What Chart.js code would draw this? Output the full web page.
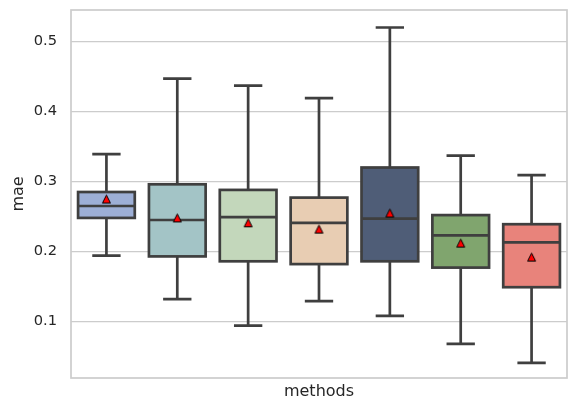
<!DOCTYPE html>
<html>
<head>
<meta charset="utf-8">
<script src="https://cdn.jsdelivr.net/npm/chart.js@4/dist/chart.umd.min.js"></script>
<style>
  body { margin: 0; background: #fff; }
  #wrap { width: 577px; height: 413px; }
</style>
</head>
<body>
<div id="wrap"><canvas id="chart"></canvas></div>
<script>
// box stats per method
const methods = ['m1', 'm2', 'm3', 'm4', 'm5', 'm6', 'm7'];
const whiskerLow = [0.194, 0.132, 0.094, 0.129, 0.108, 0.068, 0.041];
const q1 = [0.248, 0.193, 0.186, 0.182, 0.186, 0.177, 0.149];
const median = [0.265, 0.245, 0.249, 0.241, 0.247, 0.223, 0.213];
const q3 = [0.285, 0.296, 0.288, 0.277, 0.320, 0.252, 0.239];
const whiskerHigh = [0.339, 0.447, 0.437, 0.419, 0.520, 0.337, 0.309];
const means = [0.275, 0.248, 0.241, 0.232, 0.255, 0.212, 0.192];
const boxColors = ['#9dafd6', '#a3c4c6', '#c3d7bb', '#e8cdb3', '#4f5d77', '#80a56e', '#e8837b'];
const yTicks = [0.1, 0.2, 0.3, 0.4, 0.5];

const EDGE = '#3f3f3f';
const LW = 2.7;
const TEXT = '#262626';
const GRID = '#cccccc';

// mean marker: matplotlib style '^', 8px wide and 8px tall
function meanMarker() {
    const c = document.createElement('canvas');
    c.width = 11;
    c.height = 11;
    const g = c.getContext('2d');
    g.beginPath();
    g.moveTo(5.5, 1.5);
    g.lineTo(9.5, 9.5);
    g.lineTo(1.5, 9.5);
    g.closePath();
    g.fillStyle = '#ff0000';
    g.fill();
    g.strokeStyle = '#000000';
    g.lineWidth = 1;
    g.lineJoin = 'miter';
    g.stroke();
    return c;
}

// box outline, whiskers, caps and median, drawn right after the box fills
const boxExtras = {
    id: 'boxExtras',
    afterDatasetDraw(chart, args) {
        if (args.index !== 0) return;
        const ctx = chart.ctx;
        const y = chart.scales.y;
        ctx.save();
        ctx.strokeStyle = EDGE;
        ctx.lineWidth = LW;
        ctx.lineCap = 'butt';
        ctx.lineJoin = 'miter';
        args.meta.data.forEach((bar, i) => {
            const x = bar.x;
            const w = bar.width;
            const top = y.getPixelForValue(q3[i]);
            const bot = y.getPixelForValue(q1[i]);
            ctx.strokeRect(x - w / 2, top, w, bot - top);
            ctx.beginPath();
            ctx.moveTo(x, top);
            ctx.lineTo(x, y.getPixelForValue(whiskerHigh[i]));
            ctx.moveTo(x, bot);
            ctx.lineTo(x, y.getPixelForValue(whiskerLow[i]));
            ctx.moveTo(x - w / 4, y.getPixelForValue(whiskerHigh[i]));
            ctx.lineTo(x + w / 4, y.getPixelForValue(whiskerHigh[i]));
            ctx.moveTo(x - w / 4, y.getPixelForValue(whiskerLow[i]));
            ctx.lineTo(x + w / 4, y.getPixelForValue(whiskerLow[i]));
            ctx.moveTo(x - w / 2, y.getPixelForValue(median[i]));
            ctx.lineTo(x + w / 2, y.getPixelForValue(median[i]));
            ctx.stroke();
        });
        ctx.restore();
    }
};

// full frame round the plot area
const frame = {
    id: 'frame',
    beforeDatasetsDraw(chart) {
        const {ctx, chartArea: a} = chart;
        ctx.save();
        ctx.strokeStyle = GRID;
        ctx.lineWidth = 1.7;
        ctx.strokeRect(a.left, a.top, a.right - a.left, a.bottom - a.top);
        ctx.restore();
    }
};

new Chart(document.getElementById('chart'), {
    data: {
        labels: methods,
        datasets: [{
            type: 'bar',
            data: q1.map((v, i) => [v, q3[i]]),
            backgroundColor: boxColors,
            borderWidth: 0,
            categoryPercentage: 0.8,
            barPercentage: 1.0,
            order: 2
        }, {
            type: 'line',
            data: means,
            showLine: false,
            pointStyle: meanMarker(),
            pointRadius: 5,
            order: 1
        }]
    },
    options: {
        responsive: true,
        maintainAspectRatio: false,
        animation: false,
        events: [],
        layout: { padding: { top: 10, right: 10, left: 0, bottom: 0 } },
        plugins: {
            legend: { display: false },
            tooltip: { enabled: false }
        },
        scales: {
            x: {
                type: 'category',
                grid: { display: false },
                border: { display: false },
                ticks: { display: false },
                title: {
                    display: true,
                    text: 'methods',
                    color: TEXT,
                    font: { family: 'DejaVu Sans', size: 16 },
                    padding: { top: 0, bottom: 11.5 }
                },
                afterFit(scale) {
                    scale.height = 35;
                    scale.paddingLeft = 0;
                    scale.paddingRight = 0;
                }
            },
            y: {
                type: 'linear',
                min: 0.0193,
                max: 0.545,
                grid: { color: GRID, lineWidth: 1.33, drawTicks: false },
                border: { display: false },
                ticks: {
                    color: TEXT,
                    padding: 14,
                    font: { family: 'DejaVu Sans', size: 14.67 },
                    callback: v => v.toFixed(1)
                },
                afterBuildTicks(scale) {
                    scale.ticks = yTicks.map(v => ({ value: v }));
                },
                title: {
                    display: true,
                    text: 'mae',
                    color: TEXT,
                    font: { family: 'DejaVu Sans', size: 16 },
                    padding: { top: 9, bottom: 0 }
                },
                afterFit(scale) {
                    scale.width = 71;
                    scale.paddingTop = 0;
                    scale.paddingBottom = 0;
                }
            }
        }
    },
    plugins: [frame, boxExtras]
});
</script>
</body>
</html>
